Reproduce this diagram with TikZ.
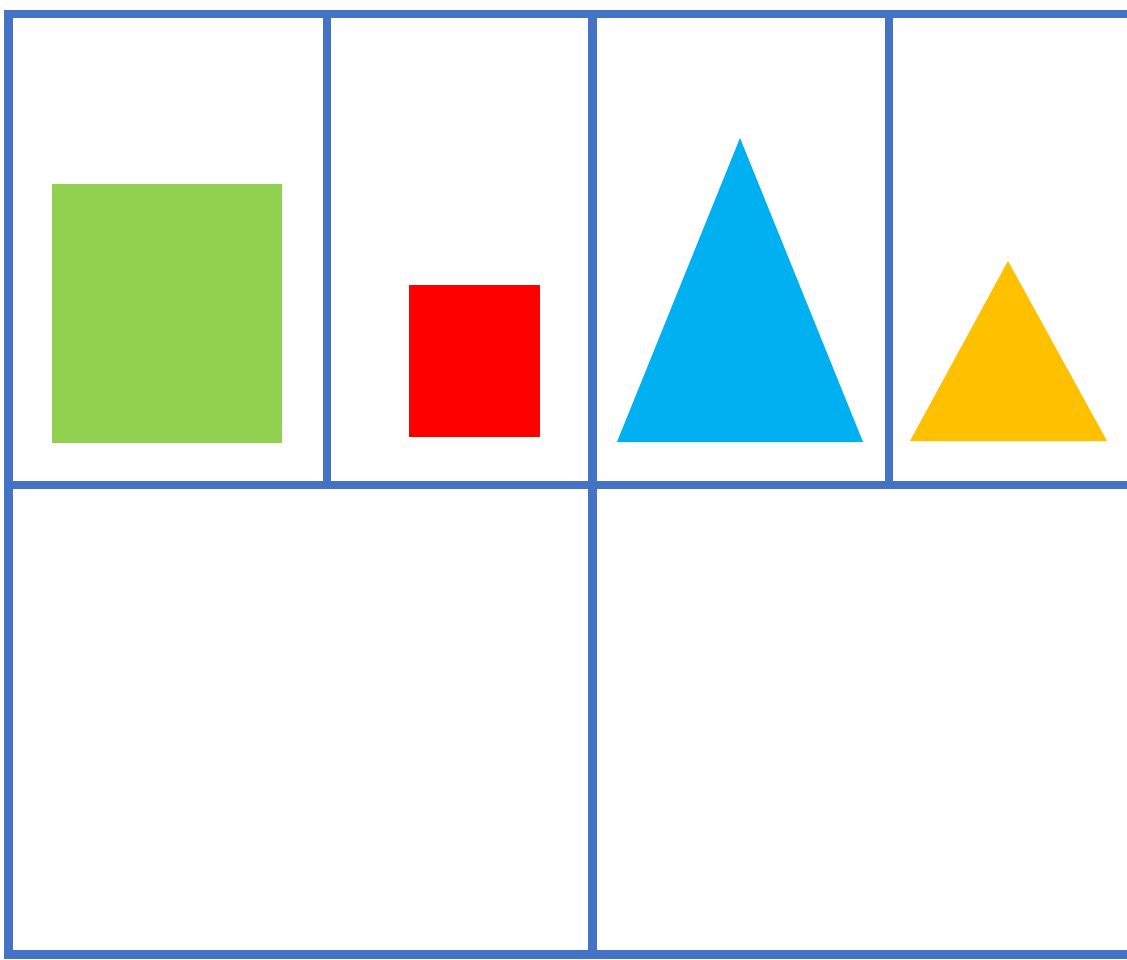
\documentclass[tikz,border=0pt]{standalone}
\definecolor{gridblue}{HTML}{4472C4}
\definecolor{sqgreen}{HTML}{92D050}
\definecolor{sqred}{HTML}{FF0000}
\definecolor{trblue}{HTML}{00B0F0}
\definecolor{tryellow}{HTML}{FFC000}
\begin{document}
\begin{tikzpicture}[x=1pt,y=-1pt,
  gridline/.style={draw=gridblue,line width=8.5pt},
  shapefill/.style={draw=none}]
\useasboundingbox (0,0) rectangle (1127,959);
\fill[white] (0,0) rectangle (1127,959);
% shapes
\fill[sqgreen] (52,184) rectangle (282,443);
\fill[sqred] (409,285) rectangle (540,437);
\fill[trblue] (740,138) -- (863,442) -- (617,442) -- cycle;
\fill[tryellow] (1008,261) -- (1107,441) -- (910,441) -- cycle;
% grid
\coordinate (tl) at (8.5,14);
\coordinate (tr) at (1135,14);
\coordinate (ml) at (8.5,485);
\coordinate (mr) at (1135,485);
\coordinate (bl) at (8.5,954.5);
\coordinate (br) at (1135,954.5);
\draw[gridline] (tr) -- (tl) -- (bl) -- (br);
\draw[gridline] (ml) -- (mr);
\draw[gridline] (327,14) -- (327,485);
\draw[gridline] (592.5,14) -- (592.5,954.5);
\draw[gridline] (889,14) -- (889,485);
\end{tikzpicture}
\end{document}
